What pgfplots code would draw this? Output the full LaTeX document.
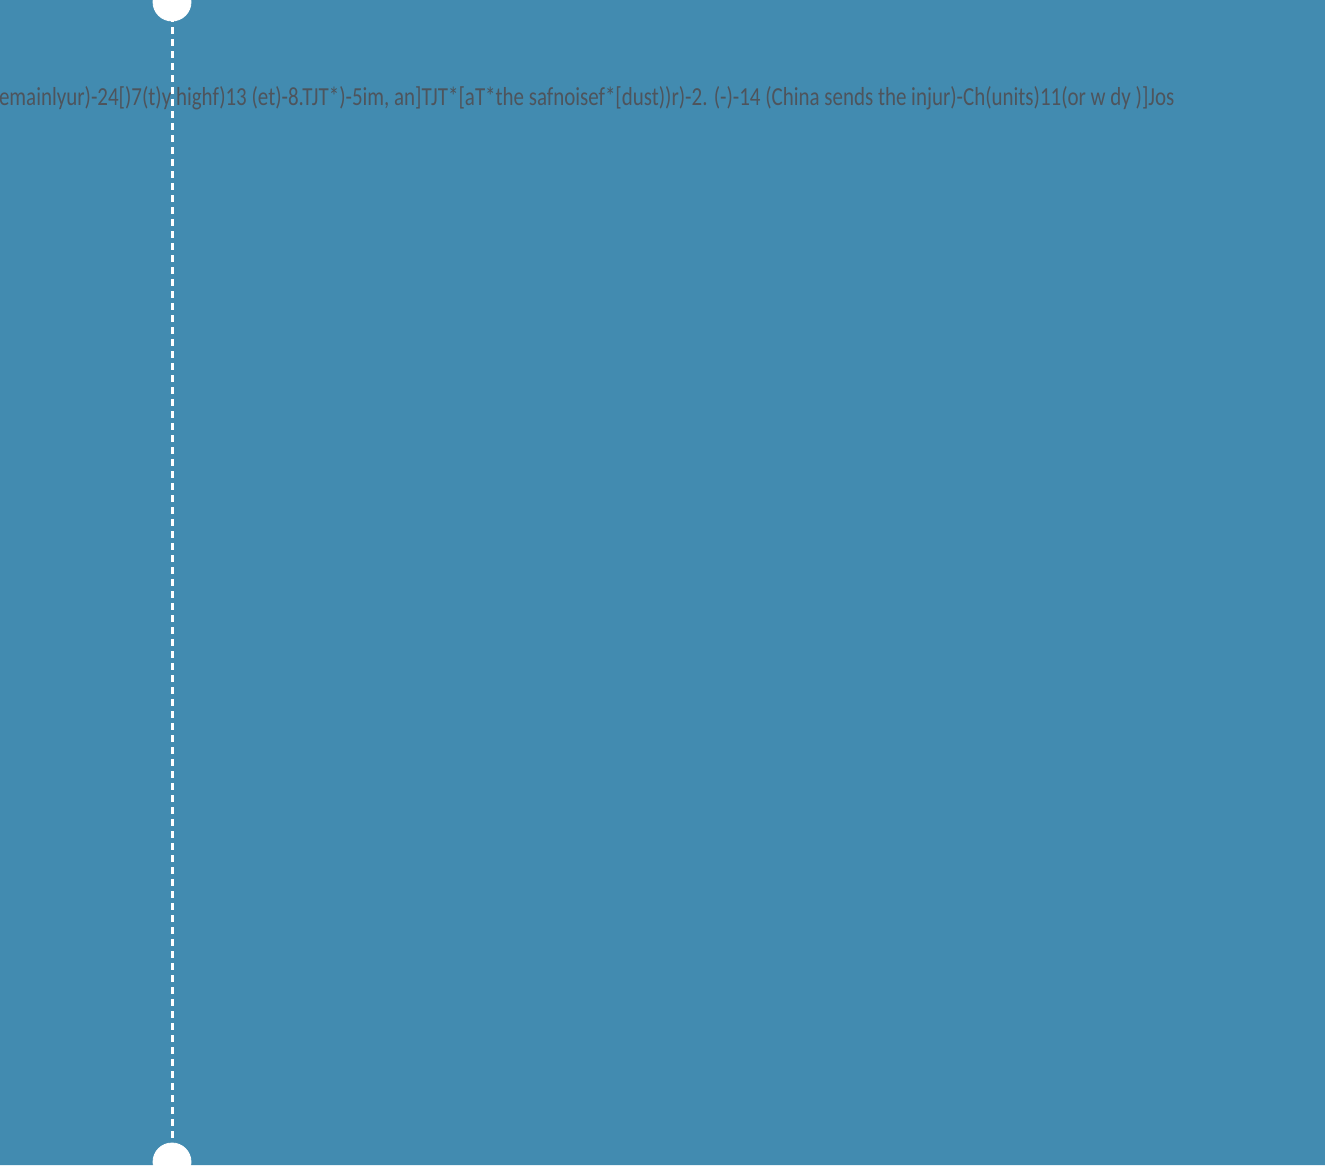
\documentclass[border=0pt]{standalone}
\usepackage{fontspec}
\usepackage{pgfplots}
\pgfplotsset{compat=1.18}
\newfontfamily\tx[FakeStretch=0.806]{Carlito}
\definecolor{bg}{RGB}{66,139,176}
\definecolor{txt}{RGB}{78,84,92}

\begin{document}
\begin{tikzpicture}
  \begin{axis}[
    width=662.5pt, height=582.5pt, scale only axis,
    xmin=0, xmax=1325, ymin=0, ymax=1165,
    hide axis, clip=true,
  ]
    % background
    \addplot[fill=bg, draw=none] coordinates {(0,0) (1325,0) (1325,1165) (0,1165)} \closedcycle;
    % vertical guide line
    \addplot[white, line width=1.5pt, dash pattern=on 3.5pt off 2.5pt] coordinates {(172,3) (172,1162)};
    \addplot[only marks, mark=*, mark size=9.5pt, mark options={fill=white, draw=white}]
      coordinates {(172,1163) (172,3)};
    \node[anchor=base east, text=txt, font=\tx\fontsize{13}{15}\selectfont, inner sep=0pt]
      at (axis cs:1175,1059)
      {remainlyur)-24[)7(t)y highf)13 (et)-8.TJT*)-5im, an]TJT*[aT*the safnoisef*[dust))r)-2. (-)-14 (China sends the injur)-Ch(units)11(or w dy )]Jos};
  \end{axis}
  \pgfresetboundingbox
  \useasboundingbox (current axis.south west) rectangle (current axis.north east);
\end{tikzpicture}
\end{document}
